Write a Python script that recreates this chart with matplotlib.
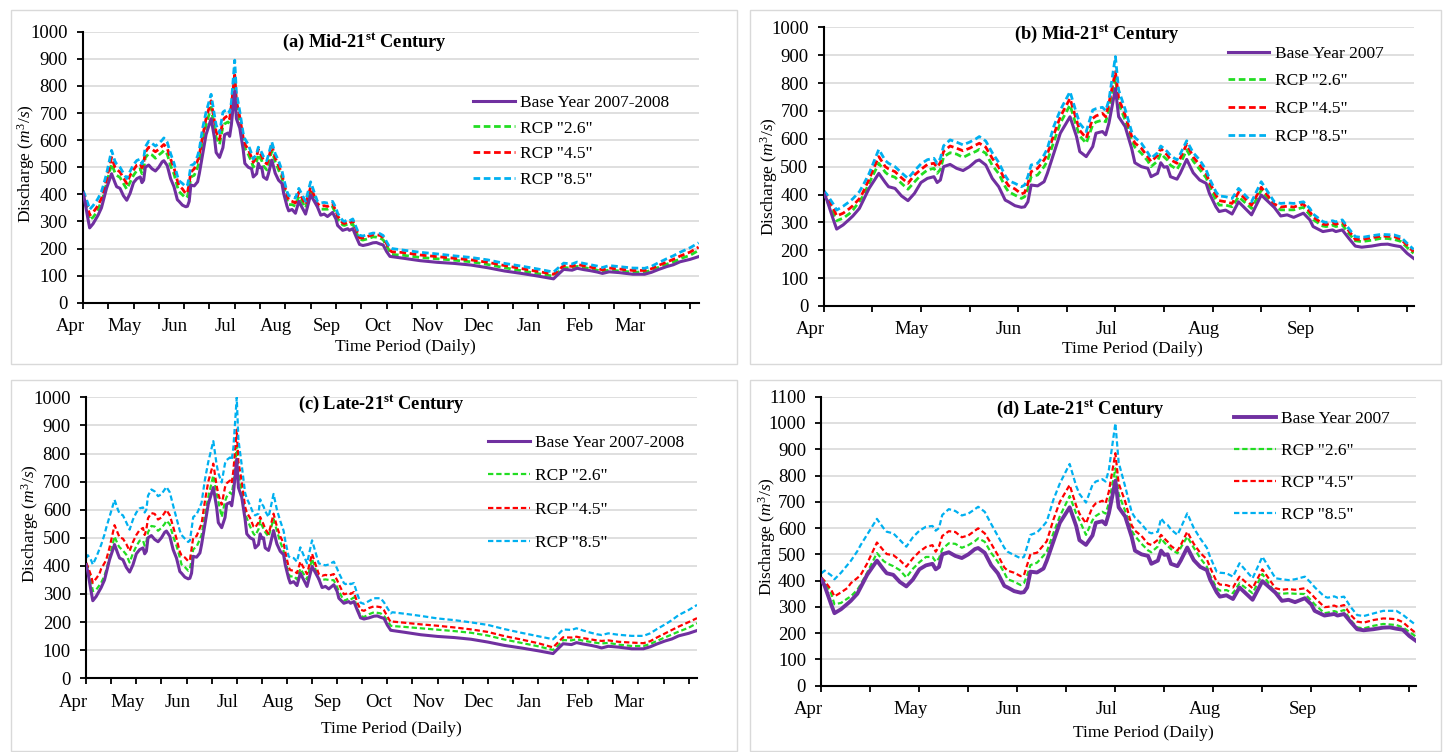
import numpy as np
import matplotlib
matplotlib.use("Agg")
import matplotlib.pyplot as plt
import matplotlib.transforms as mtransforms
from matplotlib.patches import Rectangle

plt.rcParams["font.family"] = ["Liberation Serif", "DejaVu Serif"]
plt.rcParams["mathtext.fontset"] = "custom"
plt.rcParams["mathtext.rm"] = "Liberation Serif"
plt.rcParams["mathtext.it"] = "Liberation Serif:italic"
plt.rcParams["mathtext.bf"] = "Liberation Serif:bold"

# ---- data (day 0 = 1 April) ----
DAYS_APR_SEP = [0, 1, 3, 4, 6, 8, 9, 11, 12, 14,
                17, 19, 20, 22, 24, 26, 28, 30, 32, 34,
                35, 36, 37, 39, 41, 43, 45, 47, 48, 50,
                52, 54, 56, 57, 59, 61, 62, 63, 64, 66,
                68, 69, 71, 73, 76, 78, 79, 81, 83, 84,
                86, 87, 88, 90, 91, 93, 95, 96, 98, 100,
                101, 103, 104, 105, 106, 107, 109, 110, 112, 114,
                116, 118, 119, 121, 122, 124, 126, 128, 132, 135,
                139, 141, 143, 145, 148, 150, 151, 154, 155, 157,
                158, 160, 162, 164, 166, 169, 172, 174, 176, 178,
                180, 182]

BASE_APR_SEP = [404, 380, 309, 276, 291, 312, 323, 350, 374, 422,
                476, 443, 428, 422, 395, 378, 404, 443, 458, 464,
                443, 452, 500, 508, 494, 486, 500, 520, 524, 506,
                458, 428, 380, 374, 360, 354, 356, 374, 434, 431,
                446, 476, 548, 620, 679, 608, 554, 536, 572, 620,
                626, 614, 656, 780, 679, 644, 566, 514, 500, 494,
                464, 476, 514, 498, 500, 464, 455, 476, 526, 478,
                452, 440, 404, 356, 339, 344, 330, 374, 327, 398,
                354, 323, 327, 318, 333, 309, 285, 267, 269, 273,
                267, 273, 243, 215, 211, 215, 221, 222, 217, 213,
                189, 171]

MID_RCP26_APR_SEP = [410, 378, 330, 306, 315, 332, 344, 375, 392, 440,
                     512, 480, 470, 462, 440, 419, 445, 470, 488, 494,
                     476, 490, 535, 550, 545, 533, 545, 555, 562, 548,
                     505, 475, 428, 410, 398, 386, 392, 420, 464, 470,
                     500, 520, 590, 656, 721, 644, 610, 584, 650, 660,
                     667, 661, 703, 817, 727, 667, 596, 570, 548, 520,
                     500, 520, 548, 535, 524, 505, 490, 510, 560, 520,
                     490, 460, 430, 380, 362, 362, 356, 392, 350, 416,
                     356, 345, 345, 345, 354, 327, 310, 287, 285, 290,
                     285, 291, 260, 234, 231, 236, 243, 242, 239, 232,
                     210, 189]

MID_RCP45_APR_SEP = [413, 395, 350, 323, 333, 350, 360, 385, 405, 455,
                     536, 500, 492, 482, 460, 440, 470, 490, 508, 512,
                     498, 515, 555, 574, 566, 557, 566, 578, 584, 570,
                     530, 498, 450, 432, 420, 402, 407, 440, 482, 494,
                     524, 545, 615, 679, 745, 667, 630, 602, 673, 682,
                     691, 679, 727, 841, 745, 685, 610, 585, 566, 535,
                     518, 540, 566, 552, 542, 525, 512, 530, 581, 535,
                     506, 476, 445, 398, 378, 374, 368, 408, 362, 426,
                     366, 355, 358, 355, 366, 338, 320, 294, 292, 298,
                     293, 303, 270, 239, 239, 245, 251, 250, 249, 240,
                     218, 195]

MID_RCP85_APR_SEP = [414, 400, 365, 344, 358, 375, 385, 410, 430, 475,
                     562, 522, 512, 500, 478, 458, 485, 510, 525, 530,
                     512, 530, 575, 596, 588, 578, 588, 600, 608, 592,
                     550, 515, 468, 450, 440, 428, 434, 465, 506, 512,
                     542, 565, 645, 703, 769, 691, 655, 626, 703, 708,
                     713, 701, 739, 895, 775, 706, 626, 605, 584, 550,
                     530, 550, 574, 565, 554, 540, 524, 545, 593, 550,
                     524, 488, 458, 410, 395, 392, 386, 422, 374, 446,
                     374, 368, 370, 368, 374, 350, 330, 303, 300, 306,
                     302, 309, 278, 249, 246, 252, 257, 256, 255, 248,
                     225, 203]

LATE_RCP26_APR_SEP = [409, 395, 350, 310, 315, 332, 340, 365, 385, 430,
                      505, 475, 466, 455, 440, 412, 445, 470, 490, 490,
                      472, 485, 520, 542, 540, 525, 535, 550, 561, 548,
                      505, 472, 430, 405, 396, 383, 390, 420, 459, 468,
                      495, 510, 580, 645, 722, 655, 630, 574, 630, 646,
                      662, 655, 694, 827, 730, 665, 590, 570, 540, 515,
                      508, 530, 561, 545, 532, 520, 504, 525, 567, 525,
                      485, 453, 420, 371, 362, 364, 352, 390, 352, 425,
                      352, 350, 352, 350, 349, 324, 310, 276, 278, 284,
                      280, 288, 250, 222, 218, 228, 235, 233, 231, 222,
                      205, 187]

LATE_RCP45_APR_SEP = [412, 398, 365, 340, 355, 372, 390, 410, 421, 465,
                      545, 515, 501, 497, 478, 453, 485, 510, 528, 535,
                      510, 530, 570, 588, 585, 565, 572, 590, 599, 580,
                      540, 497, 450, 438, 430, 417, 420, 460, 501, 506,
                      535, 550, 631, 700, 764, 685, 655, 618, 680, 694,
                      704, 694, 739, 885, 770, 701, 610, 590, 570, 540,
                      536, 555, 574, 560, 548, 532, 514, 535, 586, 540,
                      505, 481, 450, 396, 385, 383, 374, 415, 371, 443,
                      371, 365, 368, 365, 371, 349, 335, 299, 300, 305,
                      300, 307, 270, 244, 240, 250, 256, 255, 253, 242,
                      220, 200]

LATE_RCP85_APR_SEP = [428, 438, 420, 405, 430, 460, 475, 512, 535, 575,
                      635, 600, 586, 580, 555, 529, 565, 590, 605, 608,
                      590, 600, 650, 672, 665, 648, 655, 672, 681, 662,
                      615, 570, 525, 510, 497, 485, 490, 530, 574, 583,
                      610, 625, 707, 770, 844, 760, 730, 697, 765, 777,
                      786, 777, 821, 999, 850, 758, 660, 640, 615, 585,
                      580, 586, 637, 620, 612, 595, 574, 600, 656, 600,
                      560, 525, 490, 434, 430, 428, 415, 466, 409, 491,
                      409, 405, 402, 405, 415, 390, 375, 339, 335, 340,
                      335, 339, 300, 269, 265, 275, 285, 285, 285, 270,
                      250, 231]

DAYS_OCT_MAR = [183, 190, 200, 210, 220, 230, 240, 250, 260, 270,
                279, 281, 285, 290, 293, 297, 301, 305, 308, 312,
                318, 326, 333, 337, 341, 346, 350, 354, 360, 365]

BASE_OCT_MAR = [170, 164, 155, 149, 145, 139, 129, 117, 108, 98,
                88, 100, 123, 120, 127, 122, 118, 113, 108, 114,
                111, 105, 105, 112, 122, 133, 140, 151, 160, 170]

MID_RCP26_OCT_MAR = [178, 175, 167, 162, 157, 151, 141, 129, 118, 107,
                     98, 108, 130, 127, 134, 130, 125, 120, 115, 121,
                     117, 113, 113, 119, 130, 142, 150, 162, 175, 193]
MID_RCP45_OCT_MAR = [188, 185, 176, 170, 164, 158, 149, 137, 126, 115,
                     105, 115, 137, 134, 141, 136, 131, 126, 121, 128,
                     124, 119, 119, 125, 137, 150, 160, 172, 187, 205]
MID_RCP85_OCT_MAR = [200, 194, 186, 180, 173, 167, 158, 145, 135, 124,
                     113, 124, 146, 143, 150, 145, 140, 135, 130, 137,
                     133, 128, 127, 134, 147, 162, 173, 186, 203, 221]

LATE_RCP26_OCT_MAR = [186, 183, 178, 173, 168, 162, 152, 138, 126, 114,
                      101, 110, 136, 135, 139, 134, 130, 126, 124, 126,
                      120, 115, 115, 122, 133, 146, 156, 166, 180, 196]
LATE_RCP45_OCT_MAR = [202, 198, 192, 187, 181, 174, 165, 150, 138, 125,
                      110, 122, 146, 145, 148, 143, 139, 135, 133, 135,
                      130, 127, 125, 132, 145, 160, 172, 184, 200, 214]
LATE_RCP85_OCT_MAR = [235, 230, 222, 213, 207, 199, 190, 175, 162, 150,
                      139, 150, 174, 172, 178, 170, 163, 157, 154, 160,
                      155, 151, 151, 160, 175, 192, 207, 225, 243, 261]

MONTHS_YEAR = ["Apr", "May", "Jun", "Jul", "Aug", "Sep",
               "Oct", "Nov", "Dec", "Jan", "Feb", "Mar"]
MONTHS_HALF = ["Apr", "May", "Jun", "Jul", "Aug", "Sep"]
RCP_LABELS = ['RCP "2.6"', 'RCP "4.5"', 'RCP "8.5"']
RCP_COLORS = ["#22dd22", "#ff0000", "#00b0f0"]
BASE_COLOR = "#7030a0"

W, H = 1447, 752
fig = plt.figure(figsize=(W / 100, H / 100), dpi=100)
fig.patch.set_facecolor("white")

# panel frames (light gray boxes round each chart area)
for x0, y0, x1, y1 in [(11, 10, 737, 364), (750, 10, 1441, 364),
                       (11, 380, 737, 751), (750, 380, 1441, 751)]:
    fig.add_artist(Rectangle((x0 / W, 1 - y1 / H), (x1 - x0) / W, (y1 - y0) / H,
                             transform=fig.transFigure, fill=False,
                             ec="#d9d9d9", lw=1.0))

year_days = DAYS_APR_SEP + DAYS_OCT_MAR

panels = [
    dict(box=(82.9, 31.7, 698.6, 302.7), days=year_days, ndays=365,
         months=MONTHS_YEAR, base=BASE_APR_SEP + BASE_OCT_MAR,
         rcps=[MID_RCP26_APR_SEP + MID_RCP26_OCT_MAR,
               MID_RCP45_APR_SEP + MID_RCP45_OCT_MAR,
               MID_RCP85_APR_SEP + MID_RCP85_OCT_MAR],
         title=r"(a) Mid-21$^{\mathbf{st}}$ Century", tpos=(0.457, 0.96),
         base_label="Base Year 2007-2008", ymax=1000,
         leg=(0.634, 0.767), ls=0.54, ylab=(-0.093, 0.515), xlab=(0.523, -0.162),
         lw=2.2, dlw=2.0),
    dict(box=(823.7, 27.3, 1413.6, 306.0), days=DAYS_APR_SEP, ndays=182,
         months=MONTHS_HALF, base=BASE_APR_SEP,
         rcps=[MID_RCP26_APR_SEP, MID_RCP45_APR_SEP, MID_RCP85_APR_SEP],
         title=r"(b) Mid-21$^{\mathbf{st}}$ Century", tpos=(0.463, 0.976),
         base_label="Base Year 2007", ymax=1000,
         leg=(0.685, 0.934), ls=0.66, ylab=(-0.093, 0.464), xlab=(0.523, -0.155),
         lw=2.2, dlw=2.0),
    dict(box=(86.1, 397.3, 697.0, 678.3), days=year_days, ndays=365,
         months=MONTHS_YEAR, base=BASE_APR_SEP + BASE_OCT_MAR,
         rcps=[LATE_RCP26_APR_SEP + LATE_RCP26_OCT_MAR,
               LATE_RCP45_APR_SEP + LATE_RCP45_OCT_MAR,
               LATE_RCP85_APR_SEP + LATE_RCP85_OCT_MAR],
         title=r"(c) Late-21$^{\mathbf{st}}$ Century", tpos=(0.484, 0.973),
         base_label="Base Year 2007-2008", ymax=1000,
         leg=(0.658, 0.867), ls=1.0, ylab=(-0.091, 0.552), xlab=(0.499, -0.181),
         lw=2.2, dlw=1.6),
    dict(box=(821.4, 396.7, 1415.9, 685.7), days=DAYS_APR_SEP, ndays=182,
         months=MONTHS_HALF, base=BASE_APR_SEP,
         rcps=[LATE_RCP26_APR_SEP, LATE_RCP45_APR_SEP, LATE_RCP85_APR_SEP],
         title=r"(d) Late-21$^{\mathbf{st}}$ Century", tpos=(0.435, 0.957),
         base_label="Base Year 2007", ymax=1100,
         leg=(0.694, 0.951), ls=0.92, ylab=(-0.092, 0.516), xlab=(0.542, -0.163),
         lw=2.8, dlw=1.6),
]

label_shift = mtransforms.ScaledTranslation(-9 / 100, 0, fig.dpi_scale_trans)
first_shift = mtransforms.ScaledTranslation(-13 / 100, 0, fig.dpi_scale_trans)

for p in panels:
    x0, y0, x1, y1 = p["box"]
    ax = fig.add_axes([x0 / W, 1 - y1 / H, (x1 - x0) / W, (y1 - y0) / H])

    ax.plot(p["days"], p["base"], color=BASE_COLOR, lw=p["lw"],
            label=p["base_label"], zorder=3, solid_joinstyle="round")
    for vals, lab, col in zip(p["rcps"], RCP_LABELS, RCP_COLORS):
        ax.plot(p["days"], vals, color=col, lw=p["dlw"], ls=(0, (2.4, 1.3)),
                label=lab, zorder=2)

    ax.set_xlim(0, p["ndays"])
    ax.set_ylim(0, p["ymax"])
    ax.set_yticks(np.arange(0, p["ymax"] + 1, 100))

    ax.grid(axis="y", color="#d9d9d9", lw=1.2)
    ax.set_axisbelow(True)
    for side in ("top", "right"):
        ax.spines[side].set_visible(False)
    for side in ("left", "bottom"):
        ax.spines[side].set_linewidth(1.5)
    ax.tick_params(axis="both", direction="out", length=4, width=1.3,
                   labelsize=13.5, pad=7)

    # ticks every 15 days, a month name on every second tick
    months = p["months"]
    ticks = np.arange(0, p["ndays"] + 1, 15)
    ax.set_xticks(ticks)
    ax.set_xticklabels([months[i // 2] if i % 2 == 0 and i // 2 < len(months) else ""
                        for i in range(len(ticks))])
    for i, lbl in enumerate(ax.get_xticklabels()):
        lbl.set_transform(lbl.get_transform() + (first_shift if i == 0 else label_shift))

    ax.set_ylabel(r"Discharge ($m^3/s$)", fontsize=12.5)
    ax.yaxis.set_label_coords(*p["ylab"])
    ax.yaxis.label.set_va("center")
    ax.set_xlabel("Time Period (Daily)", fontsize=12.5)
    ax.xaxis.set_label_coords(*p["xlab"])
    ax.xaxis.label.set_va("center")

    ax.text(p["tpos"][0], p["tpos"][1], p["title"], transform=ax.transAxes,
            ha="center", va="center", fontsize=13.2, fontweight="bold")

    ax.legend(loc="upper left", bbox_to_anchor=p["leg"], frameon=False,
              fontsize=12.5, handlelength=2.4, handletextpad=0.3,
              labelspacing=p["ls"], borderpad=0, borderaxespad=0)

fig.savefig("out.png", dpi=100, facecolor="white")
